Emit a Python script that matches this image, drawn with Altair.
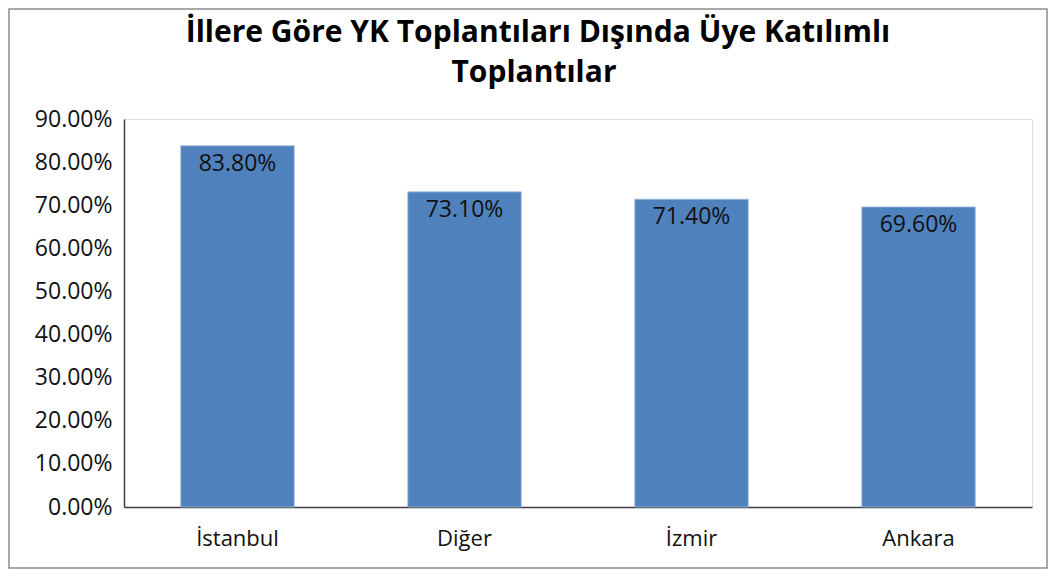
import altair as alt
import pandas as pd

cities = ["İstanbul", "Diğer", "İzmir", "Ankara"]
values = [0.838, 0.731, 0.714, 0.696]
title_lines = ["İllere Göre YK Toplantıları Dışında Üye Katılımlı", "Toplantılar"]

df = pd.DataFrame({"city": cities, "value": values})

W, H = 908, 388
PL, PT, PR, PB = 116, 111, 16, 62
FS = 23

x = alt.X("city:N", sort=cities, title=None,
          scale=alt.Scale(paddingInner=0.5, paddingOuter=0.25),
          axis=alt.Axis(labelAngle=0, labelFontSize=22, labelPadding=21, ticks=False,
                        domainColor="#404040", domainWidth=1.5, labelColor="#111",
                        labelFont="Open Sans"))
y = alt.Y("value:Q", title=None,
          scale=alt.Scale(domain=[0, 0.9], nice=False),
          axis=alt.Axis(format=".2%", values=[i / 10 for i in range(10)], grid=False, ticks=False,
                        labelFontSize=FS, labelPadding=12, domainColor="#404040", domainWidth=1.5,
                        labelColor="#111", labelFont="Open Sans"))

bars = alt.Chart(df).mark_bar(color="#4F81BD", stroke="#9FBCE0", strokeWidth=0.8).encode(x=x, y=y)
labels = alt.Chart(df).mark_text(baseline="middle", dy=18, fontSize=FS, font="Open Sans", color="#111").encode(
    x=alt.X("city:N", sort=cities), y="value:Q", text=alt.Text("value:Q", format=".2%"))

one = pd.DataFrame({"a": [0]})
frame = alt.Chart(one).mark_rect(fill=None, stroke="#8c8c8c", strokeWidth=1.5).encode(
    x=alt.value(-PL + 1), x2=alt.value(W + PR - 1), y=alt.value(-PT + 1), y2=alt.value(H + PB - 1))

t1 = alt.Chart(one).mark_text(fontSize=30, font="Open Sans", fontWeight="bold", color="#000",
                              baseline="alphabetic", align="center").encode(
    x=alt.value(414), y=alt.value(-77), text=alt.value(title_lines[0]))
t2 = alt.Chart(one).mark_text(fontSize=30, font="Open Sans", fontWeight="bold", color="#000",
                              baseline="alphabetic", align="center").encode(
    x=alt.value(410), y=alt.value(-37), text=alt.value(title_lines[1]))

chart = alt.layer(frame, bars, labels, t1, t2).properties(
    width=W, height=H,
    padding={"left": PL, "top": PT, "right": PR, "bottom": PB},
    autosize=alt.AutoSizeParams(type="none"),
).configure_view(stroke="#c8c8c8", strokeWidth=1).configure(background="white")

chart.save("out.html", embed_options={"renderer": "svg", "actions": False})
